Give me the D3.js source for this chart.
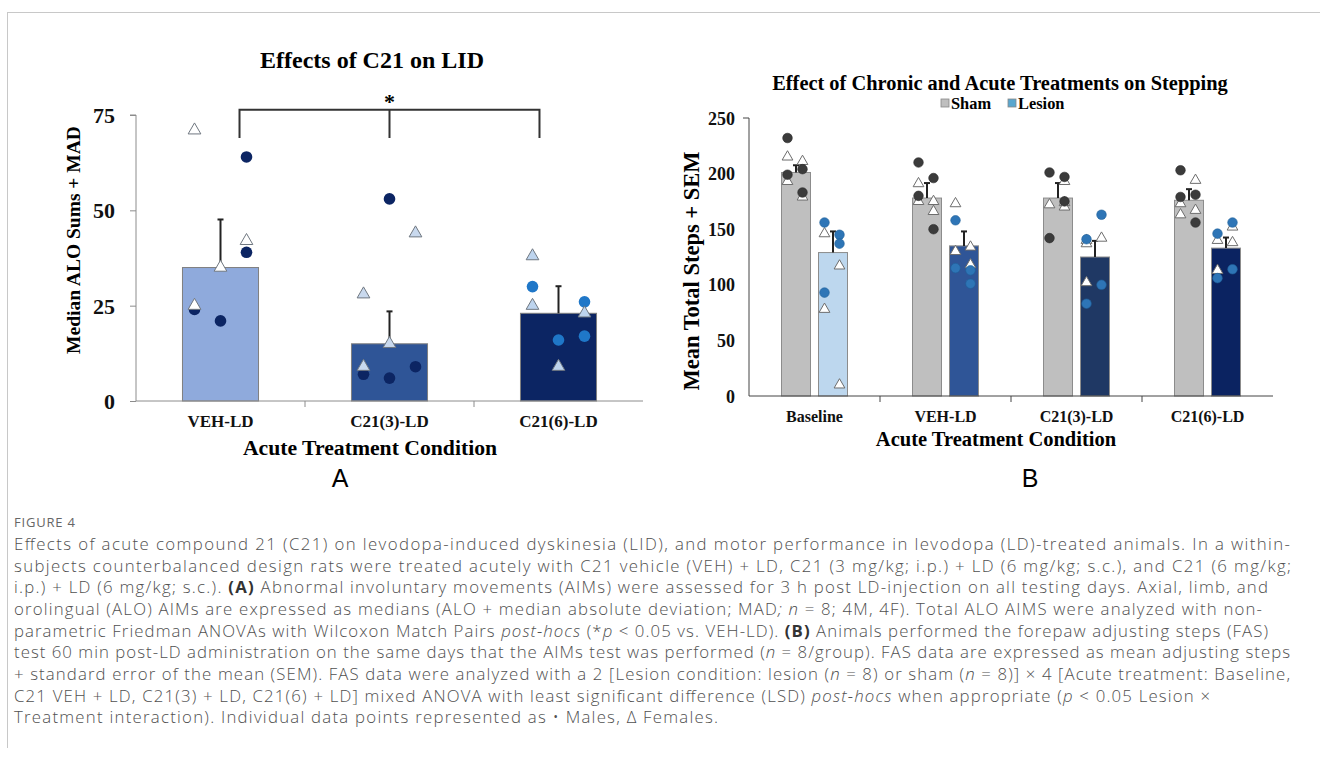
<!DOCTYPE html>
<html>
<head>
<meta charset="utf-8">
<script src="https://cdn.jsdelivr.net/npm/d3@7"></script>
<style>
  html, body { margin: 0; padding: 0; background: #fff; }
  svg { display: block; }
</style>
</head>
<body>
<svg id="fig" width="1320" height="767"></svg>
<script>
// ---------- Panel A: ALO AIMs medians ----------
const aloConditions = ["VEH-LD", "C21(3)-LD", "C21(6)-LD"];
const aloMedians = [35, 15, 23];
const aloMAD = [12.6, 8.5, 7.1];
// individual animals: value and column (-1 left, 0 middle, 1 right)
const aloFemales = [
  [[71, -1], [42, 1], [35, 0], [25, -1]],
  [[44, 1], [28, -1], [15, 0], [9, -1]],
  [[38, -1], [25, -1], [23, 1], [9, 0]]
];
const aloMales = [
  [[64, 1], [39, 1], [24, -1], [21, 0]],
  [[53, 0], [7, -1], [6, 0], [9, 1]],
  [[30, -1], [26, 1], [16, 0], [17, 1]]
];
const aloTicks = [0, 25, 50, 75];

// ---------- Panel B: forepaw adjusting steps ----------
const fasConditions = ["Baseline", "VEH-LD", "C21(3)-LD", "C21(6)-LD"];
const fasGroups = ["Sham", "Lesion"];
const shamMeans = [201, 178, 178, 176];
const shamSEM = [6.5, 13.5, 13.5, 10];
const lesionMeans = [129, 135, 125, 133];
const lesionSEM = [19, 13, 14.5, 9.5];
const shamMales = [
  [[232, -1], [199, -1], [204, 1], [183, 1]],
  [[210, -1], [180, -1], [196, 1], [150, 1]],
  [[201, -1], [197, 1], [175, 1], [142, -1]],
  [[203, -1], [179, -1], [181, 1], [156, 1]]
];
const shamFemales = [
  [[215, -1], [211, 1], [193, -1], [179, 1]],
  [[191, -1], [175, -1], [175, 1], [166, 1]],
  [[193, 1], [172, -1], [174, 1], [170, 1]],
  [[194, 1], [173, -1], [163, -1], [167, 1]]
];
const lesionMales = [
  [[156, -1], [145, 1], [137, 1], [93, -1]],
  [[158, -1], [115, -1], [113, 1], [101, 1]],
  [[163, 1], [141, -1], [100, 1], [83, -1]],
  [[146, -1], [156, 1], [106, -1], [114, 1]]
];
const lesionFemales = [
  [[146, -1], [117, 1], [78, -1], [10, 1]],
  [[173, -1], [130, -1], [134, 1], [118, 1]],
  [[140, -1], [137, -1], [142, 1], [102, -1]],
  [[140, -1], [152, 1], [138, 1], [113, -1]]
];
const fasTicks = [0, 50, 100, 150, 200, 250];

// ---------- styling ----------
const SERIF = "'Liberation Serif', 'Times New Roman', serif";
const SANS = "'Liberation Sans', Arial, sans-serif";
const CAPTION_FONT = "'Open Sans', 'Noto Sans', sans-serif";
const axisGray = "#8c8c8c";
const aloBarColors = ["#8FAADC", "#2F5597", "#0C2563"];
const aloMaleColors = ["#0C2563", "#0C2563", "#1F77C8"];
const aloFemaleFill = ["#ffffff", "#C9D9EE", "#BDD4EE"];
const lesionBarColors = ["#BDD7EE", "#2F5597", "#1F3864", "#0B2361"];

const svg = d3.select("#fig");

// figure frame
svg.append("line").attr("x1", 7).attr("x2", 1320).attr("y1", 12.5).attr("y2", 12.5)
  .attr("stroke", "#c8c8c8").attr("stroke-width", 1);
svg.append("line").attr("x1", 7.5).attr("x2", 7.5).attr("y1", 12).attr("y2", 748)
  .attr("stroke", "#c8c8c8").attr("stroke-width", 1);

function triangle(size) {
  return d3.symbol().type(d3.symbolTriangle).size(size)();
}

// ================= Panel A =================
(function () {
  const g = svg.append("g");
  const x = d3.scaleBand().domain(aloConditions).range([136, 643])
    .paddingInner(0.55).paddingOuter(0.275);
  const y = d3.scaleLinear().domain([0, 75]).range([401, 115]);
  const col = 26;

  // bars
  g.selectAll("rect.bar").data(aloConditions).join("rect")
    .attr("x", d => x(d)).attr("width", x.bandwidth())
    .attr("y", (d, i) => y(aloMedians[i]))
    .attr("height", (d, i) => y(0) - y(aloMedians[i]))
    .attr("fill", (d, i) => aloBarColors[i])
    .attr("stroke", "#7f7f7f").attr("stroke-width", 1);

  // error bars (median + MAD)
  aloConditions.forEach((c, i) => {
    const cx = x(c) + x.bandwidth() / 2;
    const top = y(aloMedians[i] + aloMAD[i]);
    g.append("line").attr("x1", cx).attr("x2", cx)
      .attr("y1", y(aloMedians[i])).attr("y2", top)
      .attr("stroke", "#222").attr("stroke-width", 2);
    g.append("line").attr("x1", cx - 3).attr("x2", cx + 3)
      .attr("y1", top).attr("y2", top)
      .attr("stroke", "#222").attr("stroke-width", 2);
  });

  // individual animals
  aloConditions.forEach((c, i) => {
    const cx = x(c) + x.bandwidth() / 2;
    aloMales[i].forEach(([v, k]) => {
      g.append("circle").attr("cx", cx + k * col).attr("cy", y(v)).attr("r", 5.8)
        .attr("fill", aloMaleColors[i]);
    });
    aloFemales[i].forEach(([v, k]) => {
      g.append("path").attr("d", triangle(70))
        .attr("transform", `translate(${cx + k * col},${y(v)})`)
        .attr("fill", aloFemaleFill[i]).attr("stroke", "#6f7780").attr("stroke-width", 1);
    });
  });

  // y axis
  const yAxis = g.append("g").attr("transform", "translate(136,0)")
    .call(d3.axisLeft(y).tickValues(aloTicks).tickSize(6).tickPadding(15));
  yAxis.select(".domain").attr("stroke", axisGray).attr("d", `M-6,${y(75)}H0V${y(0)}`);
  yAxis.selectAll(".tick line").attr("stroke", axisGray);
  yAxis.selectAll(".tick text").attr("font-family", SERIF).attr("font-weight", "bold")
    .attr("font-size", 22).attr("fill", "#111").attr("dy", "0.34em");

  // x axis with ticks between categories
  const xAxis = g.append("g").attr("transform", `translate(0,${y(0)})`)
    .call(d3.axisBottom(x).tickSize(0).tickPadding(14));
  xAxis.select(".domain").attr("stroke", axisGray).attr("d", `M136,0H643`);
  xAxis.selectAll(".tick text").attr("font-family", SERIF).attr("font-weight", "bold")
    .attr("font-size", 17).attr("fill", "#111");
  aloConditions.slice(1).forEach(c => {
    const bx = x(c) - x.step() * x.paddingInner() / 2;
    xAxis.append("line").attr("x1", bx).attr("x2", bx).attr("y1", 0).attr("y2", 6)
      .attr("stroke", axisGray);
  });

  // significance bracket VEH-LD vs C21(6)-LD
  const bl = x("VEH-LD") + x.bandwidth() * 0.75;
  const br = x("C21(6)-LD") + x.bandwidth() * 0.25;
  const bm = x("C21(3)-LD") + x.bandwidth() / 2;
  const yTop = y(76.4), yEnd = y(69);
  g.append("path")
    .attr("d", `M${bl},${yEnd}V${yTop}H${br}V${yEnd}M${bm},${yTop}V${yEnd}`)
    .attr("fill", "none").attr("stroke", "#333").attr("stroke-width", 2);
  g.append("text").attr("x", bm).attr("y", yTop - 1).attr("text-anchor", "middle")
    .attr("font-family", SERIF).attr("font-weight", "bold").attr("font-size", 22)
    .text("*");

  // titles
  g.append("text").attr("x", 372).attr("y", 68).attr("text-anchor", "middle")
    .attr("font-family", SERIF).attr("font-weight", "bold").attr("font-size", 24)
    .text("Effects of C21 on LID");
  g.append("text").attr("transform", "translate(80,240) rotate(-90)")
    .attr("text-anchor", "middle").attr("font-family", SERIF).attr("font-weight", "bold")
    .attr("font-size", 19.5).text("Median ALO Sums + MAD");
  g.append("text").attr("x", 370).attr("y", 455).attr("text-anchor", "middle")
    .attr("font-family", SERIF).attr("font-weight", "bold").attr("font-size", 21.7)
    .text("Acute Treatment Condition");
  g.append("text").attr("x", 340).attr("y", 487).attr("text-anchor", "middle")
    .attr("font-family", SANS).attr("font-size", 25).text("A");
})();

// ================= Panel B =================
(function () {
  const g = svg.append("g");
  const x = d3.scaleBand().domain(fasConditions).range([749, 1273]);
  const sub = d3.scaleBand().domain(fasGroups).range([-33, 33]).paddingInner(8 / 37);
  const y = d3.scaleLinear().domain([0, 250]).range([396, 118]);

  const groups = [
    { name: "Sham", means: shamMeans, sem: shamSEM, males: shamMales, females: shamFemales,
      fill: () => "#BFBFBF", male: "#3b3b3b" },
    { name: "Lesion", means: lesionMeans, sem: lesionSEM, males: lesionMales, females: lesionFemales,
      fill: i => lesionBarColors[i], male: "#2E75B6" }
  ];

  groups.forEach(gr => {
    fasConditions.forEach((c, i) => {
      const left = x(c) + x.bandwidth() / 2 + sub(gr.name);
      const cx = left + sub.bandwidth() / 2;
      g.append("rect").attr("x", left).attr("width", sub.bandwidth())
        .attr("y", y(gr.means[i])).attr("height", y(0) - y(gr.means[i]))
        .attr("fill", gr.fill(i)).attr("stroke", "#8c8c8c").attr("stroke-width", 1);
      const top = y(gr.means[i] + gr.sem[i]);
      g.append("line").attr("x1", cx).attr("x2", cx).attr("y1", y(gr.means[i])).attr("y2", top)
        .attr("stroke", "#222").attr("stroke-width", 2);
      g.append("line").attr("x1", cx - 3).attr("x2", cx + 3).attr("y1", top).attr("y2", top)
        .attr("stroke", "#222").attr("stroke-width", 2);
    });
  });

  groups.forEach(gr => {
    fasConditions.forEach((c, i) => {
      const cx = x(c) + x.bandwidth() / 2 + sub(gr.name) + sub.bandwidth() / 2 - 1;
      gr.females[i].forEach(([v, k]) => {
        g.append("path").attr("d", triangle(50))
          .attr("transform", `translate(${cx + k * 7.5},${y(v)})`)
          .attr("fill", "#fff").attr("stroke", "#6d6d6d").attr("stroke-width", 1);
      });
      gr.males[i].forEach(([v, k]) => {
        g.append("circle").attr("cx", cx + k * 7.5).attr("cy", y(v)).attr("r", 4.8)
          .attr("fill", gr.male).attr("stroke", gr.name === "Sham" ? "#2a2a2a" : "#1f5f99")
          .attr("stroke-width", 0.6);
      });
    });
  });

  const yAxis = g.append("g").attr("transform", "translate(749,0)")
    .call(d3.axisLeft(y).tickValues(fasTicks).tickSize(0).tickPadding(14));
  yAxis.select(".domain").attr("stroke", "#444").attr("d", `M-6,${y(250)}H0V${y(0)}`);
  yAxis.selectAll(".tick text").attr("font-family", SERIF).attr("font-weight", "bold")
    .attr("font-size", 18).attr("fill", "#111").attr("dy", "0.34em");

  const xAxis = g.append("g").attr("transform", `translate(0,${y(0)})`)
    .call(d3.axisBottom(x).tickSize(0).tickPadding(15));
  xAxis.select(".domain").attr("stroke", "#444").attr("d", `M749,0H1273`);
  xAxis.selectAll(".tick text").attr("font-family", SERIF).attr("font-weight", "bold")
    .attr("font-size", 16).attr("fill", "#111");
  fasConditions.slice(1).forEach(c => {
    xAxis.append("line").attr("x1", x(c)).attr("x2", x(c)).attr("y1", 0).attr("y2", 6)
      .attr("stroke", "#444");
  });

  g.append("text").attr("x", 1000).attr("y", 90).attr("text-anchor", "middle")
    .attr("font-family", SERIF).attr("font-weight", "bold").attr("font-size", 20.4)
    .text("Effect of Chronic and Acute Treatments on Stepping");

  // legend
  const legend = [["Sham", "#BFBFBF", 941], ["Lesion", "#5AA7CF", 1008]];
  legend.forEach(([name, color, lx]) => {
    g.append("rect").attr("x", lx).attr("y", 99).attr("width", 8).attr("height", 8)
      .attr("fill", color).attr("stroke", "#888").attr("stroke-width", 0.8);
    g.append("text").attr("x", lx + 10).attr("y", 108.5).attr("font-family", SERIF)
      .attr("font-weight", "bold").attr("font-size", 16.4).text(name);
  });

  g.append("text").attr("transform", "translate(699,271) rotate(-90)")
    .attr("text-anchor", "middle").attr("font-family", SERIF).attr("font-weight", "bold")
    .attr("font-size", 22.5).text("Mean Total Steps + SEM");
  g.append("text").attr("x", 996).attr("y", 446).attr("text-anchor", "middle")
    .attr("font-family", SERIF).attr("font-weight", "bold").attr("font-size", 20.5)
    .text("Acute Treatment Condition");
  g.append("text").attr("x", 1030).attr("y", 487).attr("text-anchor", "middle")
    .attr("font-family", SANS).attr("font-size", 25).text("B");
})();

// ================= Caption =================
// each line: its segments and the right edge the set line reaches
const captionLines = [
  [[["Effects of acute compound 21 (C21) on levodopa-induced dyskinesia (LID), and motor performance in levodopa (LD)-treated animals. In a within-"]], 1290],
  [[["subjects counterbalanced design rats were treated acutely with C21 vehicle (VEH) + LD, C21 (3 mg/kg; i.p.) + LD (6 mg/kg; s.c.), and C21 (6 mg/kg;"]], 1291],
  [[["i.p.) + LD (6 mg/kg; s.c.). "], ["(A)", "b"], [" Abnormal involuntary movements (AIMs) were assessed for 3 h post LD-injection on all testing days. Axial, limb, and"]], 1268],
  [[["orolingual (ALO) AIMs are expressed as medians (ALO + median absolute deviation; MAD"], ["; n", "i"], [" = 8; 4M, 4F). Total ALO AIMS were analyzed with non-"]], 1262],
  [[["parametric Friedman ANOVAs with Wilcoxon Match Pairs "], ["post-hocs", "i"], [" (*"], ["p", "i"], [" < 0.05 vs. VEH-LD). "], ["(B)", "b"], [" Animals performed the forepaw adjusting steps (FAS)"]], 1268],
  [[["test 60 min post-LD administration on the same days that the AIMs test was performed ("], ["n", "i"], [" = 8/group). FAS data are expressed as mean adjusting steps"]], 1290],
  [[["+ standard error of the mean (SEM). FAS data were analyzed with a 2 [Lesion condition: lesion ("], ["n", "i"], [" = 8) or sham ("], ["n", "i"], [" = 8)] × 4 [Acute treatment: Baseline,"]], 1290],
  [[["C21 VEH + LD, C21(3) + LD, C21(6) + LD] mixed ANOVA with least significant difference (LSD) "], ["post-hocs", "i"], [" when appropriate ("], ["p", "i"], [" < 0.05 Lesion ×"]], 1210],
  [[["Treatment interaction). Individual data points represented as • Males, Δ Females."]], 718]
];

svg.append("text").attr("x", 14).attr("y", 527).attr("font-family", CAPTION_FONT)
  .attr("font-size", 13).attr("letter-spacing", 0.8).attr("fill", "#666").text("FIGURE 4");

const cap = svg.append("g").attr("font-family", CAPTION_FONT).attr("font-size", 16.8)
  .attr("font-weight", 300).attr("fill", "#505050");
captionLines.forEach(([segs, right], li) => {
  const t = cap.append("text").attr("x", 14).attr("y", 550 + li * 21.65)
    .attr("textLength", right - 14).attr("lengthAdjust", "spacing");
  segs.forEach(([s, style]) => {
    const sp = t.append("tspan").text(s);
    if (style === "b") sp.attr("font-weight", "bold").attr("fill", "#333");
    if (style === "i") sp.attr("font-style", "italic");
  });
});
</script>
</body>
</html>
